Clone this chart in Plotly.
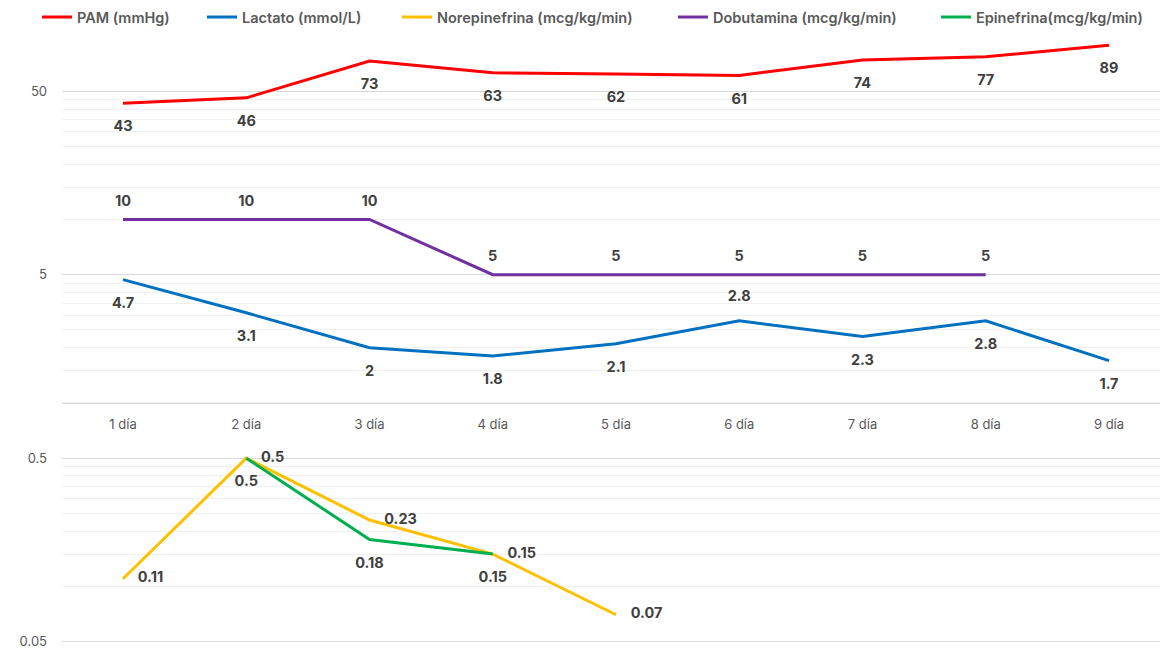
import math
import plotly.graph_objects as go

# Days of follow-up
days = ["1 día", "2 día", "3 día", "4 día", "5 día", "6 día", "7 día", "8 día", "9 día"]

# Series values
pam = [43, 46, 73, 63, 62, 61, 74, 77, 89]
lactato = [4.7, 3.1, 2, 1.8, 2.1, 2.8, 2.3, 2.8, 1.7]
norepinefrina = [0.11, 0.5, 0.23, 0.15, 0.07]
dobutamina = [10, 10, 10, 5, 5, 5, 5, 5]
epinefrina = [None, 0.5, 0.18, 0.15]

# Log axis ticks
major_ticks = [0.05, 0.5, 5, 50]
minor_ticks = [round(m * k, 4) for m in (0.05, 0.5, 5, 50) for k in range(2, 10)] + [100]

Y_MIN, Y_MAX = 0.0479, 100
W, H = 1160, 649
M_L, M_R, M_T, M_B = 62, 0, 36, 1

LABEL_FONT = dict(family="Inter, Arial, sans-serif", size=14.5, color="#404040", weight="bold")
TICK_FONT = dict(family="Inter, Arial, sans-serif", size=13, color="#595959")
LEG_FONT = dict(family="Inter, Arial, sans-serif", size=14.5, color="#595959", weight=600)

# Offset of each label from its point, set through the (invisible) marker size
GAP = {"bottom center": 26, "top center": 14, "middle right": 22}


def fmt(v):
    return "" if v is None else f"{v:g}"


fig = go.Figure()

series = [
    ("PAM (mmHg)", pam, "#FF0000", ["bottom center"] * 9, 45),
    ("Lactato (mmol/L)", lactato, "#0070C0",
     ["bottom center"] * 5 + ["top center"] + ["bottom center"] * 3, 210),
    ("Norepinefrina (mcg/kg/min)", norepinefrina, "#FFC000", ["middle right"] * 5, 405),
    ("Dobutamina (mcg/kg/min)", dobutamina, "#7030A0", ["top center"] * 8, 681),
    ("Epinefrina(mcg/kg/min)", epinefrina, "#00B050", ["bottom center"] * 4, 944),
]

plot_w = W - M_L - M_R
plot_h = H - M_T - M_B
legend_y = 1 + (M_T - 17) / plot_h

for i, (name, vals, color, pos, lx) in enumerate(series):
    leg = "legend" if i == 0 else f"legend{i + 1}"
    x = days[:len(vals)]
    sizes = [GAP[p] for p in pos]
    if name.startswith("Lactato"):
        sizes = [24 if p == "top center" else s for p, s in zip(pos, sizes)]
    fig.add_trace(go.Scatter(
        x=x, y=vals, name=name, mode="lines",
        line=dict(color=color, width=3),
        legend=leg, showlegend=True, hoverinfo="skip",
    ))
    fig.add_trace(go.Scatter(
        x=x, y=vals, name=name, mode="markers+text",
        marker=dict(size=sizes, opacity=0, color=color),
        text=[fmt(v) for v in vals],
        textposition=pos,
        textfont=LABEL_FONT,
        cliponaxis=False, showlegend=False,
    ))
    fig.update_layout({leg: dict(
        x=(lx - M_L - 8) / plot_w, y=legend_y, xanchor="left", yanchor="middle",
        orientation="h", font=LEG_FONT, bgcolor="rgba(0,0,0,0)",
    )})

# Position of the category axis where the log axis passes through 1
x_axis_pos = (math.log10(1) - math.log10(Y_MIN)) / (math.log10(Y_MAX) - math.log10(Y_MIN))

fig.update_layout(
    width=W, height=H,
    margin=dict(l=M_L, r=M_R, t=M_T, b=M_B),
    paper_bgcolor="white", plot_bgcolor="white",
    xaxis=dict(
        type="category", range=[-0.495, 8.414],
        anchor="free", position=x_axis_pos,
        showline=True, linecolor="#d9d9d9", linewidth=1,
        showgrid=False, ticks="", tickfont=TICK_FONT,
        ticklabelstandoff=9, zeroline=False,
    ),
    yaxis=dict(
        type="log", range=[math.log10(Y_MIN), math.log10(Y_MAX)],
        tickvals=major_ticks, ticktext=[fmt(v) for v in major_ticks],
        tickfont=TICK_FONT, showgrid=True, gridcolor="#d9d9d9", gridwidth=1,
        ticks="", showline=False, zeroline=False, ticklabelstandoff=14,
        ticklabeloverflow="allow",
        minor=dict(tickvals=minor_ticks, showgrid=True, gridcolor="#f0f0f0",
                   gridwidth=1, ticks=""),
    ),
)

fig.write_html("out.html")
